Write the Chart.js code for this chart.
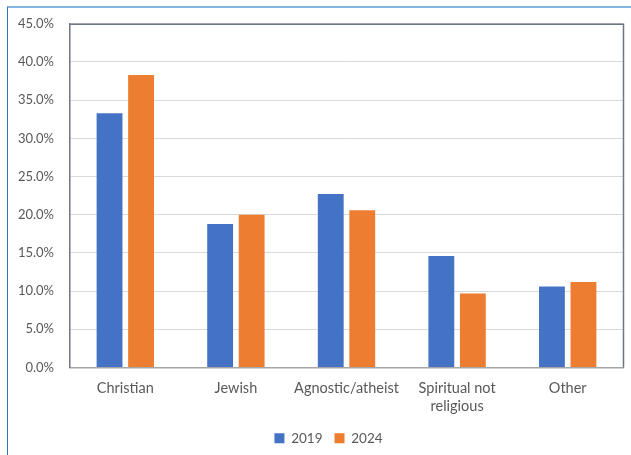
<!DOCTYPE html>
<html>
<head>
<meta charset="utf-8">
<script src="https://cdn.jsdelivr.net/npm/chart.js@4"></script>
<style>
  html, body { margin: 0; padding: 0; background: #fff; }
  #wrap { position: relative; width: 631px; height: 455px; }
  #frame { position: absolute; left: 7px; top: 6px; right: 0; bottom: 0;
           border-top: 2px solid #85b6e2; border-left: 1px solid #2e75b6; pointer-events: none; }
  canvas { position: absolute; left: 0; top: 0; }
</style>
</head>
<body>
<div id="wrap">
  <canvas id="grafico" width="631" height="455"></canvas>
  <div id="frame"></div>
</div>
<script>
// datos del grafico
const categorias = ['Christian', 'Jewish', 'Agnostic/atheist', ['Spiritual not', 'religious'], 'Other'];
const valores2019 = [33.3, 18.8, 22.7, 14.6, 10.6];
const valores2024 = [38.3, 20.0, 20.6, 9.7, 11.2];
const series = ['2019', '2024'];
const ejeMax = 45;
const ejePaso = 5;

const textoGris = '#595959';
const familia = 'Lato, "Open Sans", sans-serif';

// borde del area de trazado (arriba y derecha)
const bordeArea = {
    id: 'bordeArea',
    afterLayout(chart) {
        // la leyenda del original queda algo a la derecha del centro
        chart.legend.left += 17;
        chart.legend.right += 17;
    },
    afterDraw(chart) {
        const { ctx, chartArea: a } = chart;
        ctx.save();
        ctx.strokeStyle = '#6e7583';
        ctx.lineWidth = 1.5;
        ctx.beginPath();
        ctx.moveTo(a.left, a.top + 0.5);
        ctx.lineTo(a.right + 0.5, a.top + 0.5);
        ctx.lineTo(a.right + 0.5, a.bottom);
        ctx.stroke();
        ctx.restore();
    }
};

new Chart(document.getElementById('grafico').getContext('2d'), {
    type: 'bar',
    data: {
        labels: categorias,
        datasets: [{
            label: series[0],
            data: valores2019,
            backgroundColor: '#4472c4',
            categoryPercentage: 0.57,
            barPercentage: 0.82
        }, {
            label: series[1],
            data: valores2024,
            backgroundColor: '#ed7d31',
            categoryPercentage: 0.57,
            barPercentage: 0.82
        }]
    },
    options: {
        responsive: false,
        animation: false,
        layout: { padding: { left: 0, right: 8, top: 23, bottom: 0 } },
        plugins: {
            tooltip: { enabled: false },
            legend: {
                position: 'bottom',
                labels: {
                    color: textoGris,
                    font: { family: familia, size: 13.5 },
                    boxWidth: 10,
                    boxHeight: 10,
                    padding: 12
                }
            }
        },
        scales: {
            x: {
                grid: { display: false, drawTicks: false },
                border: { color: '#a6a6a6', width: 1.5 },
                ticks: {
                    color: textoGris,
                    font: { family: familia, size: 14.5, lineHeight: 1.3 },
                    padding: 11,
                    maxRotation: 0
                },
                afterFit(scale) { scale.height = 52; }
            },
            y: {
                min: 0,
                max: ejeMax,
                grid: { color: '#d9d9d9', drawTicks: false },
                border: { color: '#6e7583', width: 1.5 },
                ticks: {
                    stepSize: ejePaso,
                    color: textoGris,
                    font: { family: familia, size: 13 },
                    padding: 16,
                    callback: v => v.toFixed(1) + '%'
                },
                afterFit(scale) { scale.width = 70; }
            }
        }
    },
    plugins: [bordeArea]
});
</script>
</body>
</html>
